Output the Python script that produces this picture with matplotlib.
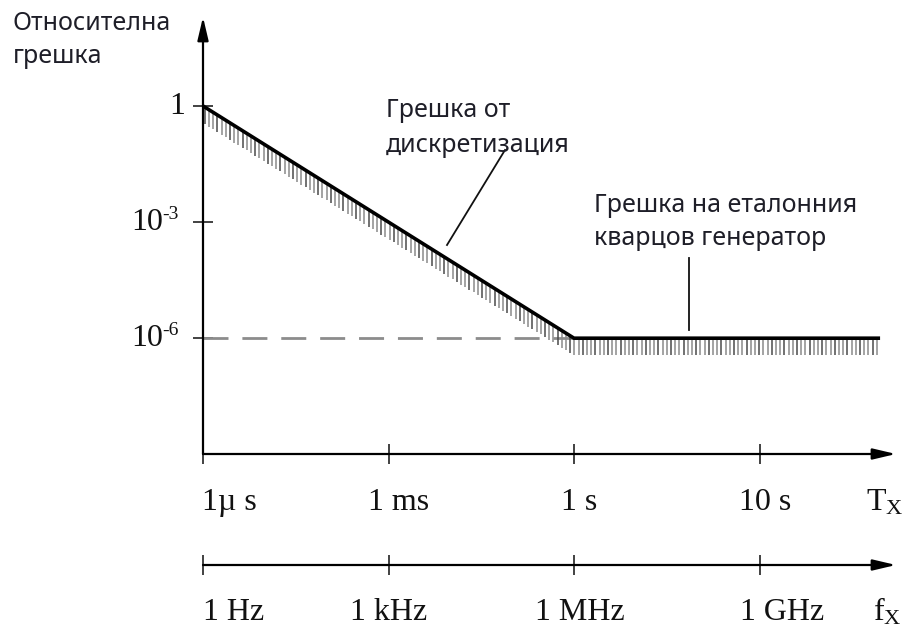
import numpy as np
import matplotlib
matplotlib.use("Agg")
import matplotlib.pyplot as plt

# ---------------- data ----------------
period_labels = ["1\u00b5 s", "1 ms", "1 s", "10 s"]
freq_labels = ["1 Hz", "1 kHz", "1 MHz", "1 GHz"]
tick_positions = [0, 1, 2, 3]
err_tick_exps = [0, -3, -6]
err_tick_bases = ["1", "10", "10"]
err_tick_sups = ["", "-3", "-6"]
curve_x = [0.0, 2.0, 3.65]          # position along the time / frequency axis
curve_logerr = [0.0, -6.0, -6.0]    # log10 of relative error
quartz_level = -6.0
ylabel_lines = ["Относителна", "грешка"]
note_discr_lines = ["Грешка от", "дискретизация"]
note_quartz_lines = ["Грешка на еталонния", "кварцов генератор"]

# ---------------- layout (pixels -> data) ----------------
W, H = 913, 629
PX_X = 185.5     # px per x unit
X0 = 203         # px of x=0
PX_Y = 38.7      # px per decade
Y0 = 106         # px of y=0


def dx(px):
    return (px - X0) / PX_X


def dy(py):
    return (Y0 - py) / PX_Y


fig = plt.figure(figsize=(W / 100, H / 100), dpi=100)
ax = fig.add_axes([0, 0, 1, 1])
ax.set_xlim(dx(0), dx(W))
ax.set_ylim(dy(H), dy(0))
ax.axis("off")

serif = "Liberation Serif"
sans = "Noto Sans"
plt.rcParams["mathtext.fontset"] = "custom"
plt.rcParams["mathtext.rm"] = serif
plt.rcParams["mathtext.it"] = serif

axis_col = "#333333"
axis_lw = 1.6
arrow_style = "-|>,head_length=1.4,head_width=0.33"

y_taxis = dy(454)
y_faxis = dy(565)
x_tip = dx(896)

# y axis with arrow
ax.annotate("", xy=(0, dy(17)), xytext=(0, y_taxis),
            arrowprops=dict(arrowstyle=arrow_style, color="black", lw=axis_lw,
                            shrinkA=0, shrinkB=0))
# x axes with arrows
for ya in (y_taxis, y_faxis):
    ax.annotate("", xy=(x_tip, ya), xytext=(0, ya),
                arrowprops=dict(arrowstyle=arrow_style, color="black", lw=axis_lw,
                                shrinkA=0, shrinkB=0))
    for p in tick_positions:
        ax.plot([p, p], [ya + 10 / PX_Y, ya - 10 / PX_Y], color=axis_col, lw=1.3,
                solid_capstyle="butt")

# y ticks
for e in err_tick_exps:
    ax.plot([dx(193), dx(213)], [e, e], color=axis_col, lw=1.3, solid_capstyle="butt")

# y tick labels
fs_serif = 23
for e, b, s in zip(err_tick_exps, err_tick_bases, err_tick_sups):
    if s:
        ax.text(dx(163), e, b, ha="right", va="center", fontsize=fs_serif,
                family=serif, color="#111111")
        ax.text(dx(162), e + 8 / PX_Y, s, ha="left", va="center", fontsize=14,
                family=serif, color="#111111")
    else:
        ax.text(dx(185), e, b, ha="right", va="center", fontsize=fs_serif,
                family=serif, color="#111111")

# x tick labels
dx_T = [26, 10, 5, 6]
dx_f = [31, 0, 6, 23]
for p, lab, off in zip(tick_positions, period_labels, dx_T):
    ax.text(p + off / PX_X, dy(502), lab, ha="center", va="center",
            fontsize=fs_serif, family=serif, color="#111111")
for p, lab, off in zip(tick_positions, freq_labels, dx_f):
    ax.text(p + off / PX_X, dy(612), lab, ha="center", va="center",
            fontsize=fs_serif, family=serif, color="#111111")
ax.text(dx(866), dy(502), r"$\mathrm{T}_{\mathrm{X}}$", ha="left", va="center",
        fontsize=fs_serif, color="#111111")
ax.text(dx(873), dy(612), r"$\mathrm{f}_{\mathrm{X}}$", ha="left", va="center",
        fontsize=fs_serif, color="#111111")

# dashed reference line
ax.plot([0, curve_x[1]], [quartz_level, quartz_level], color="#8c8c8c", lw=2,
        dashes=(9, 5))

# hatch below the curve
hx = np.arange(0.01, curve_x[-1], 4.2 / PX_X)
hy = np.interp(hx, curve_x, curve_logerr)
shade = np.where(np.arange(len(hx)) % 3 == 0, "#4a4a4a", "#8a8a8a")
ax.vlines(hx, hy - 17 / PX_Y, hy, colors=shade, lw=1.1)

# error curve
ax.plot(curve_x, curve_logerr, color="black", lw=2.6, solid_capstyle="butt",
        solid_joinstyle="miter")

# texts
txt_col = "#1e1e28"
fs_sans = 18


def put_lines(xpx, baselines, lines):
    for bpx, line in zip(baselines, lines):
        ax.text(dx(xpx), dy(bpx), line, ha="left", va="baseline",
                fontsize=fs_sans, family=sans, color=txt_col)


put_lines(13, [30, 63], ylabel_lines)
put_lines(386, [117, 152], note_discr_lines)
put_lines(594, [212, 245], note_quartz_lines)

# leader lines
ax.plot([dx(505), dx(447)], [dy(150), dy(245)], color="#111111", lw=1.3)
ax.plot([dx(689), dx(689)], [dy(258), dy(330)], color="#111111", lw=1.3)

fig.savefig("out.png", dpi=100, facecolor="white")
